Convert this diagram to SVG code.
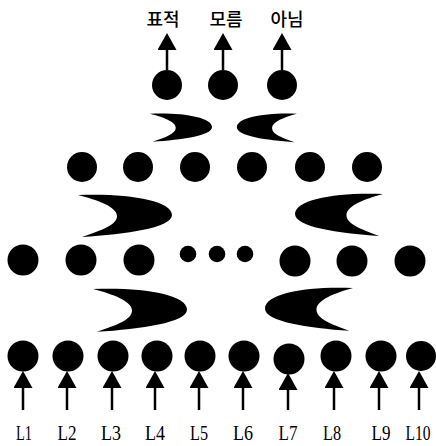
<svg xmlns="http://www.w3.org/2000/svg" xmlns:xlink="http://www.w3.org/1999/xlink" width="436" height="446" viewBox="0 0 436 446">
<style>
.n{fill:#000}
.sn{fill:#000}
.c{stroke:#000;stroke-width:2.5;fill:none}
.cr{fill:#000}
.kl{font-family:"Noto Sans CJK KR","Noto Sans",sans-serif;font-size:18px;font-weight:500;fill:#000;text-anchor:middle}
.ll{font-family:"Liberation Serif","Times New Roman",serif;font-size:21px;fill:#000;text-anchor:middle}
</style>
<defs>
<marker id="ah" markerUnits="userSpaceOnUse" markerWidth="17" markerHeight="19" viewBox="0 0 17 19" refX="0" refY="9.5" orient="auto">
<path d="M0,0 L17,9.5 L0,19 Z" fill="#000"/>
</marker>
<path id="cres" d="M0,1 C48,-1 94,6 94,21 C94,34 48,40 4,43 C24,36 39,31 39,22 C39,13 20,6 0,1 Z"/>
</defs>
<rect width="436" height="446" fill="#fff"/>

<g id="connectors">
<path class="c" d="M167,70 V50" marker-end="url(#ah)"/>
<path class="c" d="M223,70 V50" marker-end="url(#ah)"/>
<path class="c" d="M282,70 V50" marker-end="url(#ah)"/>
<path class="c" d="M23,410 V388" marker-end="url(#ah)"/>
<path class="c" d="M67,410 V388" marker-end="url(#ah)"/>
<path class="c" d="M112,410 V388" marker-end="url(#ah)"/>
<path class="c" d="M155,410 V388" marker-end="url(#ah)"/>
<path class="c" d="M199,410 V388" marker-end="url(#ah)"/>
<path class="c" d="M243,410 V388" marker-end="url(#ah)"/>
<path class="c" d="M288,410 V390" marker-end="url(#ah)"/>
<path class="c" d="M334,410 V388" marker-end="url(#ah)"/>
<path class="c" d="M379,410 V388" marker-end="url(#ah)"/>
<path class="c" d="M419,410 V388" marker-end="url(#ah)"/>
</g>

<g id="output-labels">
<text class="kl" x="163" y="26">표적</text>
<text class="kl" x="226" y="26">모름</text>
<text class="kl" x="287" y="26">아님</text>
</g>

<g id="output-layer">
<g id="o1"><circle class="n" cx="167" cy="85" r="15"/></g>
<g id="o2"><circle class="n" cx="223" cy="85" r="15"/></g>
<g id="o3"><circle class="n" cx="282" cy="85" r="15"/></g>
</g>

<g id="weights-1">
<use xlink:href="#cres" class="cr" transform="translate(150,113) scale(0.66,0.67)"/>
<use xlink:href="#cres" class="cr" transform="translate(297,113) scale(-0.64,0.68)"/>
</g>

<g id="hidden-layer-2">
<g id="h2-1"><circle class="n" cx="82" cy="167" r="15"/></g>
<g id="h2-2"><circle class="n" cx="138" cy="167" r="15"/></g>
<g id="h2-3"><circle class="n" cx="195" cy="167" r="15"/></g>
<g id="h2-4"><circle class="n" cx="252" cy="167" r="15"/></g>
<g id="h2-5"><circle class="n" cx="310" cy="167" r="15"/></g>
<g id="h2-6"><circle class="n" cx="367" cy="167" r="15"/></g>
</g>

<g id="weights-2">
<use xlink:href="#cres" class="cr" transform="translate(78,194) scale(1,1)"/>
<use xlink:href="#cres" class="cr" transform="translate(383,193) scale(-0.936,1)"/>
</g>

<g id="hidden-layer-1">
<g id="h1-1"><circle class="n" cx="23" cy="260" r="15.5"/></g>
<g id="h1-2"><circle class="n" cx="81" cy="260" r="15.5"/></g>
<g id="h1-3"><circle class="n" cx="139" cy="260" r="15.5"/></g>
<g id="h1-dot1"><circle class="sn" cx="188" cy="254" r="8.3"/></g>
<g id="h1-dot2"><circle class="sn" cx="217" cy="254" r="8.3"/></g>
<g id="h1-dot3"><circle class="sn" cx="245" cy="254" r="8.3"/></g>
<g id="h1-7"><circle class="n" cx="295" cy="261" r="15.5"/></g>
<g id="h1-8"><circle class="n" cx="352" cy="261" r="15.5"/></g>
<g id="h1-9"><circle class="n" cx="410" cy="261" r="15.5"/></g>
</g>

<g id="weights-3">
<use xlink:href="#cres" class="cr" transform="translate(93,288) scale(1,1.02)"/>
<use xlink:href="#cres" class="cr" transform="translate(353,287) scale(-0.936,1.02)"/>
</g>

<g id="input-layer">
<g id="i1"><circle class="n" cx="23" cy="356" r="15.5"/></g>
<g id="i2"><circle class="n" cx="68" cy="356" r="15.5"/></g>
<g id="i3"><circle class="n" cx="113" cy="356" r="15.5"/></g>
<g id="i4"><circle class="n" cx="157" cy="356" r="15.5"/></g>
<g id="i5"><circle class="n" cx="200" cy="356" r="15.5"/></g>
<g id="i6"><circle class="n" cx="244" cy="356" r="15.5"/></g>
<g id="i7"><circle class="n" cx="289" cy="359" r="15.5"/></g>
<g id="i8"><circle class="n" cx="336" cy="356" r="15.5"/></g>
<g id="i9"><circle class="n" cx="381" cy="356" r="15.5"/></g>
<g id="i10"><circle class="n" cx="421" cy="356" r="15"/></g>
</g>

<g id="input-labels">
<text class="ll" x="24" y="440" textLength="16" lengthAdjust="spacingAndGlyphs">L1</text>
<text class="ll" x="67" y="440" textLength="19" lengthAdjust="spacingAndGlyphs">L2</text>
<text class="ll" x="111" y="440" textLength="20" lengthAdjust="spacingAndGlyphs">L3</text>
<text class="ll" x="155" y="440" textLength="20" lengthAdjust="spacingAndGlyphs">L4</text>
<text class="ll" x="199" y="440" textLength="18" lengthAdjust="spacingAndGlyphs">L5</text>
<text class="ll" x="243" y="440" textLength="20" lengthAdjust="spacingAndGlyphs">L6</text>
<text class="ll" x="288" y="440" textLength="19" lengthAdjust="spacingAndGlyphs">L7</text>
<text class="ll" x="332" y="440" textLength="18" lengthAdjust="spacingAndGlyphs">L8</text>
<text class="ll" x="381" y="440" textLength="19" lengthAdjust="spacingAndGlyphs">L9</text>
<text class="ll" x="418" y="440" textLength="25" lengthAdjust="spacingAndGlyphs">L10</text>
</g>
</svg>
